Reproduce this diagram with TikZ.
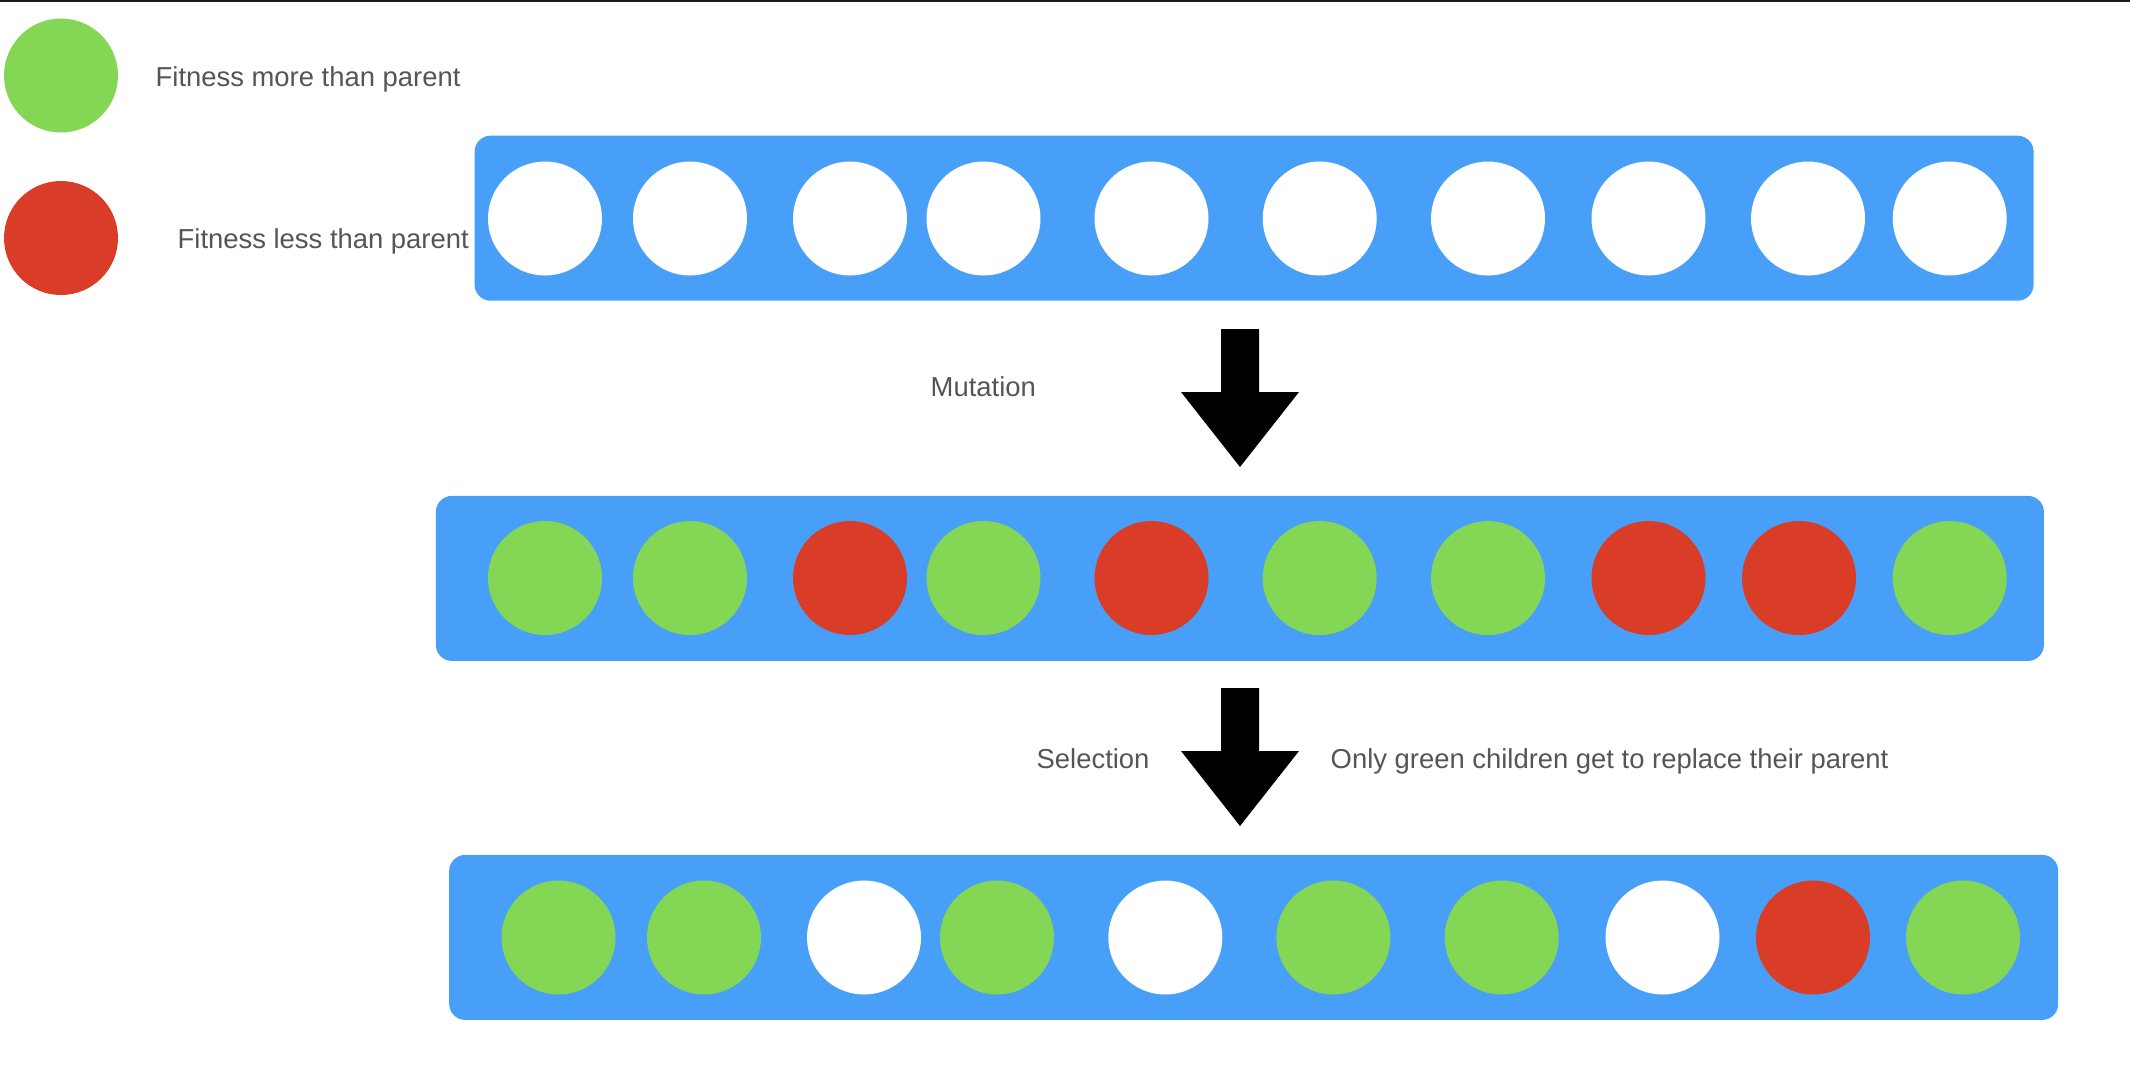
\documentclass[tikz,border=0pt]{standalone}
\usepackage{fontspec}
\setmainfont{Liberation Sans}
\definecolor{popblue}{HTML}{489FF8}
\definecolor{fitgreen}{HTML}{84D755}
\definecolor{fitred}{HTML}{DA3D27}
\definecolor{labelgray}{HTML}{555555}
\tikzset{
    popbox/.style={fill=popblue, rounded corners=0.16cm, inner sep=0},
    indiv/.style={circle, fill=#1, minimum size=1.14cm, inner sep=0},
    lbl/.style={text=labelgray, anchor=base west, inner sep=0, font=\fontsize{7.8}{9.4}\selectfont},
}
\begin{document}
\begin{tikzpicture}
    \useasboundingbox (0,0) rectangle (21.3,-10.7);
    \fill[black!90] (0,0) rectangle (21.3,-0.02);

    % Legenda
    \node[indiv=fitgreen] (leg_green) at (0.61,-0.755) {};
    \node[indiv=fitred] (leg_red) at (0.61,-2.38) {};
    \node[lbl] (leg_green_txt) at (1.55,-0.86) {Fitness more than parent};
    \node[lbl] (leg_red_txt) at (1.77,-2.487) {Fitness less than parent};

    % Popolazioni
    \node[popbox, minimum width=15.59cm, minimum height=1.65cm] (pop_parents) at (12.541,-2.182) {};
    \node[popbox, minimum width=16.08cm, minimum height=1.65cm] (pop_children) at (12.399,-5.784) {};
    \node[popbox, minimum width=16.09cm, minimum height=1.65cm] (pop_next) at (12.537,-9.374) {};

    % Individui
    \foreach \x/\c [count=\i] in {5.45/white, 6.90/white, 8.50/white, 9.835/white, 11.515/white,
        13.197/white, 14.88/white, 16.485/white, 18.08/white, 19.497/white}
        \node[indiv=\c] (par_\i) at (\x,-2.185) {};
    \foreach \x/\c [count=\i] in {5.45/fitgreen, 6.90/fitgreen, 8.50/fitred, 9.835/fitgreen, 11.515/fitred,
        13.197/fitgreen, 14.88/fitgreen, 16.485/fitred, 17.99/fitred, 19.497/fitgreen}
        \node[indiv=\c] (child_\i) at (\x,-5.78) {};
    \foreach \x/\c [count=\i] in {5.585/fitgreen, 7.04/fitgreen, 8.64/white, 9.97/fitgreen, 11.653/white,
        13.334/fitgreen, 15.017/fitgreen, 16.625/white, 18.13/fitred, 19.63/fitgreen}
        \node[indiv=\c] (next_\i) at (\x,-9.375) {};

    % Frecce
    \coordinate (mut_tip) at (12.40,-4.67);
    \coordinate (sel_tip) at (12.40,-8.26);
    \foreach \tip in {mut_tip, sel_tip}
        \fill[black] (\tip) -- ++(-0.59,0.75) -- ++(0.40,0) -- ++(0,0.63) -- ++(0.38,0)
            -- ++(0,-0.63) -- ++(0.40,0) -- cycle;

    % Etichette
    \node[lbl] (mut_lbl) at (9.30,-3.967) {Mutation};
    \node[lbl] (sel_lbl) at (10.36,-7.683) {Selection};
    \node[lbl] (sel_note) at (13.30,-7.683) {Only green children get to replace their parent};
\end{tikzpicture}
\end{document}
